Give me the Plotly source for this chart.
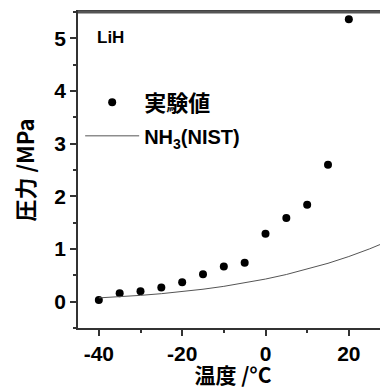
import plotly.graph_objects as go

temp_exp = [-40, -35, -30, -25, -20, -15, -10, -5, 0, 5, 10, 15, 20]
press_exp = [0.03, 0.16, 0.20, 0.27, 0.37, 0.52, 0.67, 0.74, 1.29, 1.59, 1.84, 2.60, 5.36]

temp_nist = [-40, -35, -30, -25, -20, -15, -10, -5, 0, 5, 10, 15, 20, 25, 30]
press_nist = [0.0717, 0.0932, 0.1195, 0.1516, 0.1902, 0.2363, 0.2908, 0.3548, 0.4294,
              0.5157, 0.6150, 0.7283, 0.8572, 1.0030, 1.1670]

x_tick_vals = [-40, -20, 0, 20]
x_tick_text = ["-40", "-20", "0", "20"]
y_tick_vals = [0, 1, 2, 3, 4, 5]
y_tick_text = ["0", "1", "2", "3", "4", "5"]

num_font = "Liberation Sans, Arial, sans-serif"
jp_font = "Noto Sans CJK JP, sans-serif"

fig = go.Figure()
fig.add_trace(go.Scatter(
    x=temp_exp, y=press_exp, mode="markers", name="<b>実験値</b>",
    marker=dict(color="black", size=8), legendgroup="a",
))
fig.add_trace(go.Scatter(
    x=temp_nist, y=press_nist, mode="lines",
    name="<span style='font-family:Liberation Sans;font-size:20px'><b>NH<sub>3</sub>(NIST)</b></span>",
    line=dict(color="#555555", width=1), legendgroup="b",
))

fig.add_annotation(
    text="<b>LiH</b>", x=0.055, y=0.92, xref="paper", yref="paper",
    xanchor="left", yanchor="middle", showarrow=False,
    font=dict(family=num_font, size=17, color="black"),
)

axis_common = dict(
    showline=True, linecolor="#333333", linewidth=1.5,
    ticks="outside", tickcolor="#333333", tickwidth=1.5, ticklen=6,
    showgrid=False, zeroline=False,
    tickfont=dict(family=num_font, size=21, color="black", weight="bold"),
)

# page body has an 8px default margin; figure is sized so the plot lands where the reference has it
fig.update_layout(
    width=380, height=381,
    margin=dict(l=70, r=0, t=4, b=61),
    paper_bgcolor="white", plot_bgcolor="white",
    showlegend=True,
    legend=dict(
        x=0.007, y=0.66, xanchor="left", yanchor="middle",
        bgcolor="rgba(0,0,0,0)", tracegroupgap=2, itemwidth=54,
        font=dict(family=jp_font, size=22, color="black"),
    ),
    xaxis=dict(
        range=[-45, 29.4], tickmode="array", tickvals=x_tick_vals, ticktext=x_tick_text,
        mirror=True,
        minor=dict(dtick=10, tick0=0, ticks="outside", ticklen=3, tickcolor="#333333"),
        title=dict(text="<b>温度 /°C</b>", font=dict(family=jp_font, size=21, color="black"), standoff=3),
        **axis_common,
    ),
    yaxis=dict(
        range=[-0.5, 5.5], tickmode="array", tickvals=y_tick_vals, ticktext=y_tick_text,
        minor=dict(dtick=0.5, tick0=0, ticks="outside", ticklen=3, tickcolor="#333333"),
        title=dict(text="<b>圧力 /MPa</b>", font=dict(family=jp_font, size=22, color="black"), standoff=14),
        **axis_common,
    ),
    shapes=[dict(type="line", xref="paper", yref="paper", x0=0, x1=1, y0=1, y1=1,
                 layer="above", line=dict(color="#555555", width=3))],
)

fig.write_html("out.html")
